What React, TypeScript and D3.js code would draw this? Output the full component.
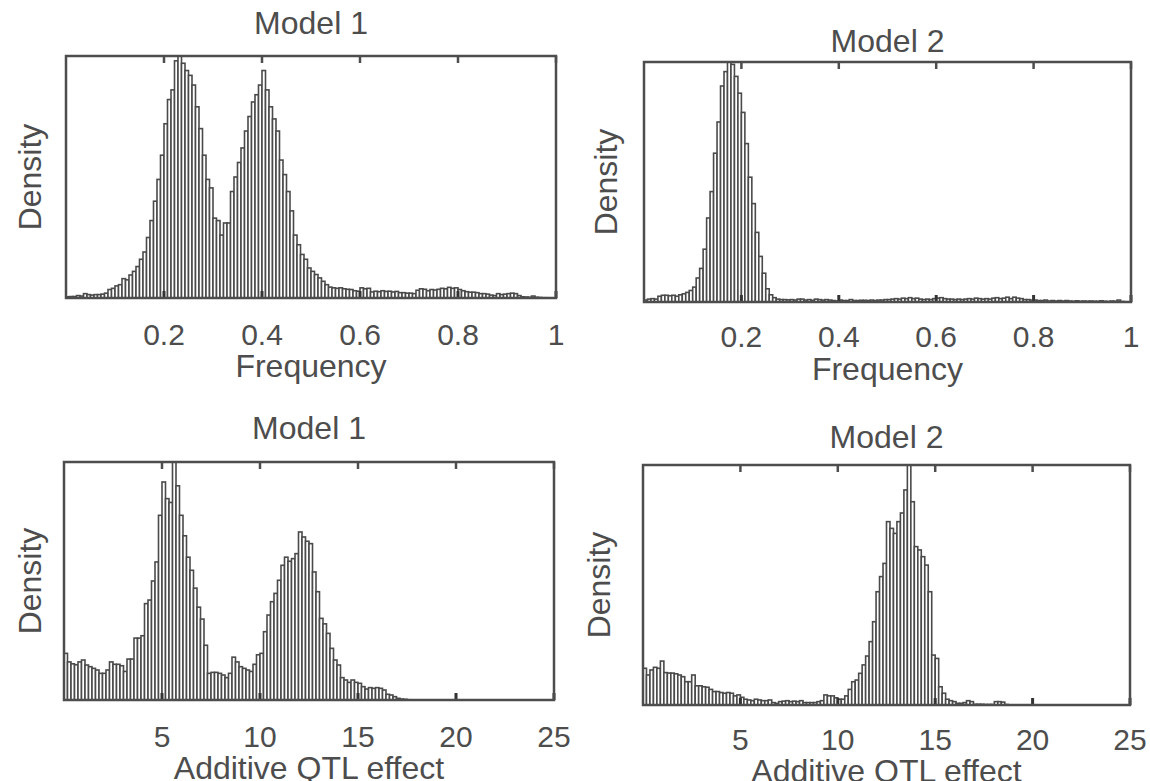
import React from "react";
import * as d3 from "d3";

// ---------- data (relative densities, 140 bins per panel) ----------
const TOP_BINS = 140;
const BOTTOM_BINS = 140;

const freqModel1: number[] = [
  0.005, 0.006, 0.006, 0.01, 0.008, 0.018, 0.014, 0.012, 0.014, 0.014,
  0.016, 0.02, 0.035, 0.04, 0.05, 0.055, 0.08, 0.075, 0.095, 0.11,
  0.13, 0.16, 0.19, 0.25, 0.32, 0.4, 0.49, 0.59, 0.72, 0.82,
  0.86, 0.98, 1.0, 0.97, 0.94, 0.92, 0.88, 0.79, 0.7, 0.59,
  0.49, 0.455, 0.33, 0.32, 0.26, 0.31, 0.31, 0.44, 0.5, 0.56,
  0.62, 0.69, 0.75, 0.81, 0.84, 0.88, 0.94, 0.86, 0.79, 0.74,
  0.69, 0.57, 0.51, 0.44, 0.36, 0.26, 0.22, 0.18, 0.16, 0.124,
  0.11, 0.097, 0.083, 0.069, 0.055, 0.045, 0.042, 0.04, 0.042, 0.038,
  0.036, 0.035, 0.03, 0.028, 0.042, 0.038, 0.04, 0.025, 0.028, 0.026,
  0.03, 0.027, 0.028, 0.025, 0.027, 0.022, 0.022, 0.02, 0.02, 0.018,
  0.032, 0.038, 0.036, 0.03, 0.035, 0.033, 0.036, 0.04, 0.038, 0.044,
  0.04, 0.042, 0.035, 0.03, 0.026, 0.024, 0.024, 0.022, 0.018, 0.018,
  0.016, 0.012, 0.01, 0.018, 0.014, 0.016, 0.018, 0.02, 0.018, 0.01,
  0.005, 0.004, 0.003, 0.008, 0.003, 0.002, 0.001, 0.001, 0.0, 0.0,
];

const freqModel2: number[] = [
  0.008, 0.012, 0.014, 0.012, 0.024, 0.028, 0.028, 0.026, 0.028, 0.024,
  0.03, 0.034, 0.04, 0.048, 0.062, 0.1, 0.14, 0.22, 0.35, 0.46,
  0.62, 0.75, 0.9, 0.96, 1.0, 0.99, 0.94, 0.87, 0.79, 0.66,
  0.52, 0.41, 0.29, 0.19, 0.12, 0.055, 0.03, 0.018, 0.012, 0.01,
  0.01, 0.009, 0.01, 0.008, 0.012, 0.012, 0.008, 0.01, 0.007, 0.012,
  0.01, 0.008, 0.01, 0.008, 0.006, 0.004, 0.008, 0.006, 0.006, 0.01,
  0.006, 0.006, 0.007, 0.007, 0.006, 0.008, 0.006, 0.008, 0.008, 0.01,
  0.01, 0.012, 0.014, 0.012, 0.016, 0.014, 0.018, 0.014, 0.016, 0.012,
  0.01, 0.012, 0.01, 0.014, 0.016, 0.018, 0.014, 0.012, 0.012, 0.01,
  0.012, 0.01, 0.012, 0.014, 0.012, 0.016, 0.014, 0.012, 0.014, 0.012,
  0.016, 0.018, 0.014, 0.016, 0.02, 0.014, 0.02, 0.016, 0.014, 0.01,
  0.01, 0.008, 0.008, 0.006, 0.006, 0.008, 0.004, 0.006, 0.004, 0.006,
  0.004, 0.006, 0.004, 0.003, 0.005, 0.003, 0.004, 0.003, 0.004, 0.003,
  0.003, 0.005, 0.003, 0.002, 0.004, 0.003, 0.008, 0.002, 0.001, 0.0,
];

const qtlModel1: number[] = [
  0.196, 0.16, 0.152, 0.148, 0.16, 0.168, 0.147, 0.14, 0.133, 0.126,
  0.112, 0.112, 0.126, 0.16, 0.15, 0.15, 0.144, 0.12, 0.172, 0.172,
  0.26, 0.26, 0.27, 0.405, 0.42, 0.5, 0.58, 0.776, 0.916, 0.846,
  0.83, 1.0, 0.9, 0.776, 0.69, 0.6, 0.545, 0.47, 0.39, 0.34,
  0.23, 0.112, 0.116, 0.116, 0.112, 0.105, 0.094, 0.112, 0.18, 0.16,
  0.14, 0.133, 0.126, 0.12, 0.15, 0.19, 0.196, 0.287, 0.357, 0.413,
  0.448, 0.503, 0.566, 0.6, 0.583, 0.594, 0.615, 0.706, 0.685, 0.667,
  0.657, 0.538, 0.455, 0.343, 0.32, 0.28, 0.217, 0.168, 0.147, 0.094,
  0.084, 0.074, 0.084, 0.074, 0.07, 0.056, 0.046, 0.052, 0.049, 0.052,
  0.049, 0.042, 0.024, 0.021, 0.014, 0.007, 0.004, 0.003, 0.001, 0.0,
];

const qtlModel2: number[] = [
  0.153, 0.125, 0.146, 0.157, 0.153, 0.183, 0.135, 0.133, 0.133, 0.13,
  0.125, 0.118, 0.097, 0.097, 0.125, 0.08, 0.08, 0.076, 0.074, 0.065,
  0.056, 0.056, 0.052, 0.049, 0.052, 0.049, 0.038, 0.042, 0.032, 0.024,
  0.021, 0.018, 0.024, 0.021, 0.018, 0.018, 0.021, 0.01, 0.007, 0.014,
  0.016, 0.018, 0.014, 0.016, 0.014, 0.018, 0.01, 0.01, 0.01, 0.01,
  0.014, 0.018, 0.042, 0.038, 0.038, 0.03, 0.024, 0.024, 0.038, 0.065,
  0.097, 0.104, 0.132, 0.167, 0.204, 0.264, 0.347, 0.472, 0.535, 0.59,
  0.764, 0.736, 0.715, 0.764, 0.8, 0.896, 1.0, 0.847, 0.66, 0.646,
  0.618, 0.583, 0.472, 0.208, 0.194, 0.076, 0.049, 0.024, 0.018, 0.014,
  0.007, 0.007, 0.01, 0.018, 0.014, 0.003, 0.003, 0.003, 0.002, 0.002,
  0.002, 0.014, 0.014, 0.012, 0.002,
];

const freqTicks = [0.2, 0.4, 0.6, 0.8, 1];
const freqTickLabels = ["0.2", "0.4", "0.6", "0.8", "1"];
const qtlTicks = [5, 10, 15, 20, 25];
const qtlTickLabels = ["5", "10", "15", "20", "25"];

const titles = ["Model 1", "Model 2", "Model 1", "Model 2"];
const xLabels = ["Frequency", "Frequency", "Additive QTL effect", "Additive QTL effect"];
const yLabel = "Density";

// ---------- layout ----------
type PanelCfg = {
  values: number[];
  xMax: number;
  bins: number;
  ticks: number[];
  tickLabels: string[];
  title: string;
  xLabel: string;
  box: { x0: number; x1: number; y0: number; y1: number };
  titleY: number;
  tickY: number;
  xLabelY: number;
  yLabelX: number;
};

const INK = "#4d4d4d";
const FONT = "'Liberation Sans', Arial, Helvetica, sans-serif";
const FS = 32;
const TICK_FS = 30;

function Panel({ cfg }: { cfg: PanelCfg }) {
  const { box } = cfg;
  const x = d3.scaleLinear().domain([0, cfg.xMax]).range([box.x0, box.x1]);
  const y = d3.scaleLinear().domain([0, 1]).range([box.y1, box.y0]);
  const bw = cfg.xMax / cfg.bins;
  const cx = (box.x0 + box.x1) / 2;
  const cy = (box.y0 + box.y1) / 2;
  return (
    <g>
      {cfg.values.map((v, i) =>
        v > 0 ? (
          <rect
            key={i}
            x={x(i * bw)}
            y={y(v)}
            width={x((i + 1) * bw) - x(i * bw)}
            height={y(0) - y(v)}
            fill="#fff"
            stroke="#4a4a4a"
            strokeWidth={1.6}
          />
        ) : null
      )}
      {cfg.ticks.map((t, i) => (
        <g key={"t" + i}>
          <line x1={x(t)} x2={x(t)} y1={box.y0} y2={box.y0 + 7} stroke={INK} strokeWidth={2.5} />
          <line x1={x(t)} x2={x(t)} y1={box.y1} y2={box.y1 - 7} stroke="#333" strokeWidth={3} />
          <text
            x={x(t)}
            y={cfg.tickY}
            textAnchor="middle"
            fontFamily={FONT}
            fontSize={TICK_FS}
            fill={INK}
          >
            {cfg.tickLabels[i]}
          </text>
        </g>
      ))}
      <rect
        x={box.x0}
        y={box.y0}
        width={box.x1 - box.x0}
        height={box.y1 - box.y0}
        fill="none"
        stroke={INK}
        strokeWidth={2.5}
      />
      <text x={cx} y={cfg.titleY} textAnchor="middle" fontFamily={FONT} fontSize={FS} fill={INK}>
        {cfg.title}
      </text>
      <text x={cx} y={cfg.xLabelY} textAnchor="middle" fontFamily={FONT} fontSize={FS} fill={INK}>
        {cfg.xLabel}
      </text>
      <text
        transform={`translate(${cfg.yLabelX},${cy}) rotate(-90)`}
        textAnchor="middle"
        dominantBaseline="central"
        fontFamily={FONT}
        fontSize={FS}
        fill={INK}
      >
        {yLabel}
      </text>
    </g>
  );
}

export default function App() {
  const panels: PanelCfg[] = [
    {
      values: freqModel1, xMax: 1, bins: TOP_BINS, ticks: freqTicks, tickLabels: freqTickLabels,
      title: titles[0], xLabel: xLabels[0],
      box: { x0: 66, x1: 556, y0: 56, y1: 298 },
      titleY: 34, tickY: 345, xLabelY: 377, yLabelX: 30,
    },
    {
      values: freqModel2, xMax: 1, bins: TOP_BINS, ticks: freqTicks, tickLabels: freqTickLabels,
      title: titles[1], xLabel: xLabels[1],
      box: { x0: 644, x1: 1131, y0: 62, y1: 302 },
      titleY: 52, tickY: 347, xLabelY: 380, yLabelX: 606,
    },
    {
      values: qtlModel1, xMax: 25, bins: BOTTOM_BINS, ticks: qtlTicks, tickLabels: qtlTickLabels,
      title: titles[2], xLabel: xLabels[2],
      box: { x0: 64, x1: 554, y0: 462, y1: 700 },
      titleY: 439, tickY: 747, xLabelY: 779, yLabelX: 30,
    },
    {
      values: qtlModel2, xMax: 25, bins: BOTTOM_BINS, ticks: qtlTicks, tickLabels: qtlTickLabels,
      title: titles[3], xLabel: xLabels[3],
      box: { x0: 643, x1: 1130, y0: 465, y1: 705 },
      titleY: 448, tickY: 750, xLabelY: 782, yLabelX: 599,
    },
  ];
  return (
    <svg
      width={1150}
      height={781}
      style={{ position: "absolute", left: 0, top: 0, background: "#fff" }}
    >
      <rect x={0} y={0} width={1150} height={781} fill="#fff" />
      {panels.map((p, i) => (
        <Panel key={i} cfg={p} />
      ))}
    </svg>
  );
}
